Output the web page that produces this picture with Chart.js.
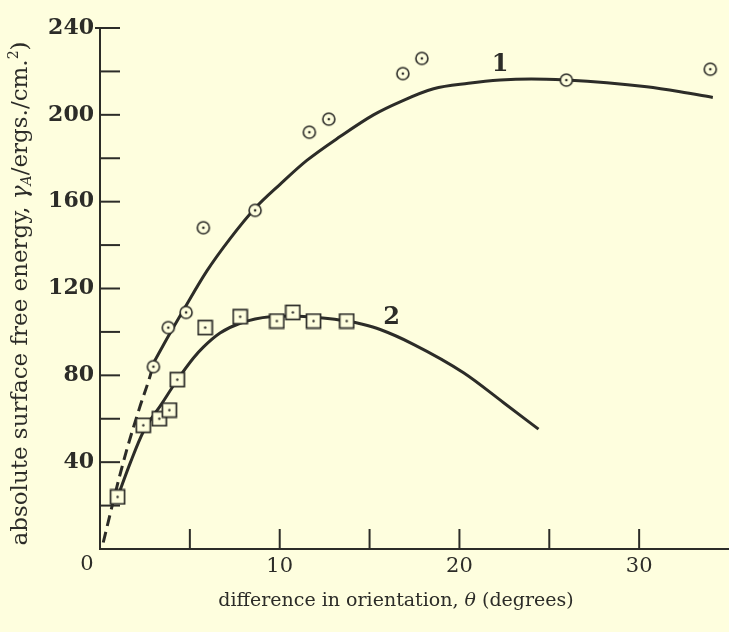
<!DOCTYPE html>
<html>
<head>
<meta charset="utf-8">
<script src="https://cdn.jsdelivr.net/npm/chart.js@4/dist/chart.umd.min.js"></script>
<style>
html,body{margin:0;padding:0;background:#fefede;}
canvas{display:block;}
</style>
</head>
<body>
<canvas id="c" width="729" height="632"></canvas>
<script>
// ---- data ----
const thetaCircles = [2.97, 3.80, 4.79, 5.75, 8.63, 11.65, 12.73, 16.85, 17.91, 25.95, 33.96];
const gammaCircles = [84, 102, 109, 148, 156, 192, 198, 219, 226, 216, 221];
const thetaSquares = [0.98, 2.41, 3.30, 3.86, 4.30, 5.85, 7.80, 9.84, 10.73, 11.88, 13.73];
const gammaSquares = [24, 57, 60, 64, 78, 102, 107, 105, 109, 105, 105];
const thetaCurve1 = [3.0, 3.8, 4.64, 5.94, 7.24, 8.63, 10.02, 11.51, 13.36, 15.22, 16.7, 18.56, 20.5, 22.27, 24.0, 25.95, 28.2, 30.42, 32.28, 34.1];
const gammaCurve1 = [86, 98, 110, 128, 143, 157, 168, 179, 190, 200, 206, 212, 214.5, 216, 216.5, 216, 214.8, 212.9, 210.6, 208];
const thetaCurve1Dashed = [0.18, 0.98, 1.5, 2.2, 2.8, 3.0];
const gammaCurve1Dashed = [3, 30, 46, 65, 80, 86];
const thetaCurve2 = [0.85, 1.7, 2.41, 3.44, 4.27, 5.2, 5.75, 6.68, 7.8, 9.47, 10.76, 12.25, 13.73, 14.66, 15.59, 17.44, 20.23, 22.46, 24.4];
const gammaCurve2 = [21, 40, 54, 67, 77.5, 88, 93, 99.5, 104, 107, 107.3, 106.5, 105, 103.4, 101.1, 94.3, 81.2, 67.4, 55.2];
const curveNames = ['1', '2'];
const curveNameTheta = [22.26, 16.23];
const curveNameGamma = [223, 106.3];
const xTicksLabelled = [10, 20, 30];
const originLabel = '0';
const yTicksLabelled = [40, 80, 120, 160, 200, 240];

// ---- styles ----
const bg = '#fefede';
const ink = '#2c2c28';

function pts(xs, ys) { return xs.map((x, i) => ({x: x, y: ys[i]})); }

function makeCircle() {
  const c = document.createElement('canvas');
  c.width = 16; c.height = 16;
  const g = c.getContext('2d');
  g.fillStyle = bg; g.strokeStyle = ink; g.lineWidth = 1.6;
  g.beginPath(); g.arc(8, 8, 6, 0, 2 * Math.PI); g.fill(); g.stroke();
  g.fillStyle = ink; g.beginPath(); g.arc(8, 8, 1.3, 0, 2 * Math.PI); g.fill();
  return c;
}
function makeSquare() {
  const c = document.createElement('canvas');
  c.width = 17; c.height = 17;
  const g = c.getContext('2d');
  g.fillStyle = bg; g.strokeStyle = ink; g.lineWidth = 1.7;
  g.fillRect(1.5, 1.5, 14, 14); g.strokeRect(1.5, 1.5, 14, 14);
  g.fillStyle = ink; g.beginPath(); g.arc(8.5, 8.5, 1.2, 0, 2 * Math.PI); g.fill();
  return c;
}

const bgPlugin = {
  id: 'bg',
  beforeDraw(chart) {
    const ctx = chart.ctx;
    ctx.save(); ctx.fillStyle = bg; ctx.fillRect(0, 0, chart.width, chart.height); ctx.restore();
  }
};

const tickPlugin = {
  id: 'innerTicks',
  beforeDatasetsDraw(chart) {
    const {ctx, chartArea, scales} = chart;
    ctx.save();
    ctx.strokeStyle = ink; ctx.lineWidth = 2;
    scales.y.ticks.forEach(t => {
      if (t.value === 0) return;
      const py = scales.y.getPixelForValue(t.value);
      ctx.beginPath();
      ctx.moveTo(chartArea.left - (t.value === 240 ? 5 : 0), py);
      ctx.lineTo(chartArea.left + 20, py);
      ctx.stroke();
    });
    scales.x.ticks.forEach(t => {
      if (t.value === 0 || t.value === scales.x.max) return;
      const px = scales.x.getPixelForValue(t.value);
      ctx.beginPath();
      ctx.moveTo(px, chartArea.bottom);
      ctx.lineTo(px, chartArea.bottom - 20);
      ctx.stroke();
    });
    ctx.restore();
  }
};

function drawRich(ctx, segs, x, y) {
  let total = 0;
  segs.forEach(s => { ctx.font = s.font; total += ctx.measureText(s.t).width; });
  let cx = x - total / 2;
  segs.forEach(s => {
    ctx.font = s.font;
    ctx.fillText(s.t, cx, y + (s.dy || 0));
    cx += ctx.measureText(s.t).width;
  });
}

const textPlugin = {
  id: 'texts',
  afterDraw(chart) {
    const {ctx, chartArea, scales} = chart;
    ctx.save();
    ctx.fillStyle = ink;
    ctx.textBaseline = 'alphabetic';
    // x title
    const xb = '19px "DejaVu Serif"';
    drawRich(ctx, [
      {t: 'difference in orientation, ', font: xb},
      {t: '\u03B8', font: 'italic 19px "DejaVu Serif"'},
      {t: ' (degrees)', font: xb}
    ], 396, 606);
    // y title
    const yb = '23px "DejaVu Serif"';
    ctx.save();
    ctx.translate(27, (chartArea.top + chartArea.bottom) / 2 + 5);
    ctx.rotate(-Math.PI / 2);
    drawRich(ctx, [
      {t: 'absolute surface free energy, ', font: yb},
      {t: '\u03B3', font: 'italic 23px "DejaVu Serif"'},
      {t: 'A', font: 'italic 14px "DejaVu Serif"', dy: 4},
      {t: '/ergs./cm.', font: yb},
      {t: '2', font: '14px "DejaVu Serif"', dy: -9},
      {t: ')', font: yb}
    ], 0, 0);
    ctx.restore();
    // origin label
    ctx.font = '21px "DejaVu Serif"';
    ctx.textAlign = 'center';
    ctx.textBaseline = 'top';
    ctx.fillText(originLabel, chartArea.left - 13, chartArea.bottom + 5);
    // curve names
    ctx.font = 'bold 24px "DejaVu Serif"';
    ctx.textBaseline = 'middle';
    curveNames.forEach((n, i) => {
      ctx.fillText(n, scales.x.getPixelForValue(curveNameTheta[i]), scales.y.getPixelForValue(curveNameGamma[i]));
    });
    ctx.restore();
  }
};

const circleImg = makeCircle();
const squareImg = makeSquare();

new Chart(document.getElementById('c'), {
  type: 'scatter',
  data: {
    datasets: [
      {data: pts(thetaCircles, gammaCircles), pointStyle: circleImg, pointRadius: 7, showLine: false, order: 0},
      {data: pts(thetaSquares, gammaSquares), pointStyle: squareImg, pointRadius: 7, showLine: false, order: 0},
      {data: pts(thetaCurve1, gammaCurve1), showLine: true, pointRadius: 0, borderColor: ink, borderWidth: 3, cubicInterpolationMode: 'monotone', order: 1},
      {data: pts(thetaCurve1Dashed, gammaCurve1Dashed), showLine: true, pointRadius: 0, borderColor: ink, borderWidth: 3, borderDash: [11, 6], cubicInterpolationMode: 'monotone', order: 1},
      {data: pts(thetaCurve2, gammaCurve2), showLine: true, pointRadius: 0, borderColor: ink, borderWidth: 3, cubicInterpolationMode: 'monotone', order: 1}
    ]
  },
  options: {
    responsive: false,
    animation: false,
    layout: {autoPadding: false, padding: {top: 28, right: 0, left: 0, bottom: 0}},
    plugins: {legend: {display: false}, tooltip: {enabled: false}},
    scales: {
      x: {
        type: 'linear', min: 0, max: 35,
        grid: {display: false, drawTicks: true, tickLength: 5},
        border: {display: true, color: ink, width: 2},
        ticks: {
          stepSize: 5, padding: 0, color: ink, maxRotation: 0, autoSkip: false,
          font: {family: 'DejaVu Serif', size: 21},
          callback: v => xTicksLabelled.includes(v) ? String(v) : ''
        },
        afterFit(s) { s.height = 83; }
      },
      y: {
        type: 'linear', min: 0, max: 240,
        grid: {display: false, drawTicks: true, tickLength: 6},
        border: {display: true, color: ink, width: 2},
        ticks: {
          stepSize: 20, padding: 0, color: ink, autoSkip: false,
          font: {family: 'DejaVu Serif', size: 22, weight: 'bold'},
          callback: v => yTicksLabelled.includes(v) ? String(v) : ''
        },
        afterFit(s) { s.width = 100; }
      }
    }
  },
  plugins: [bgPlugin, tickPlugin, textPlugin]
});
</script>
</body>
</html>
